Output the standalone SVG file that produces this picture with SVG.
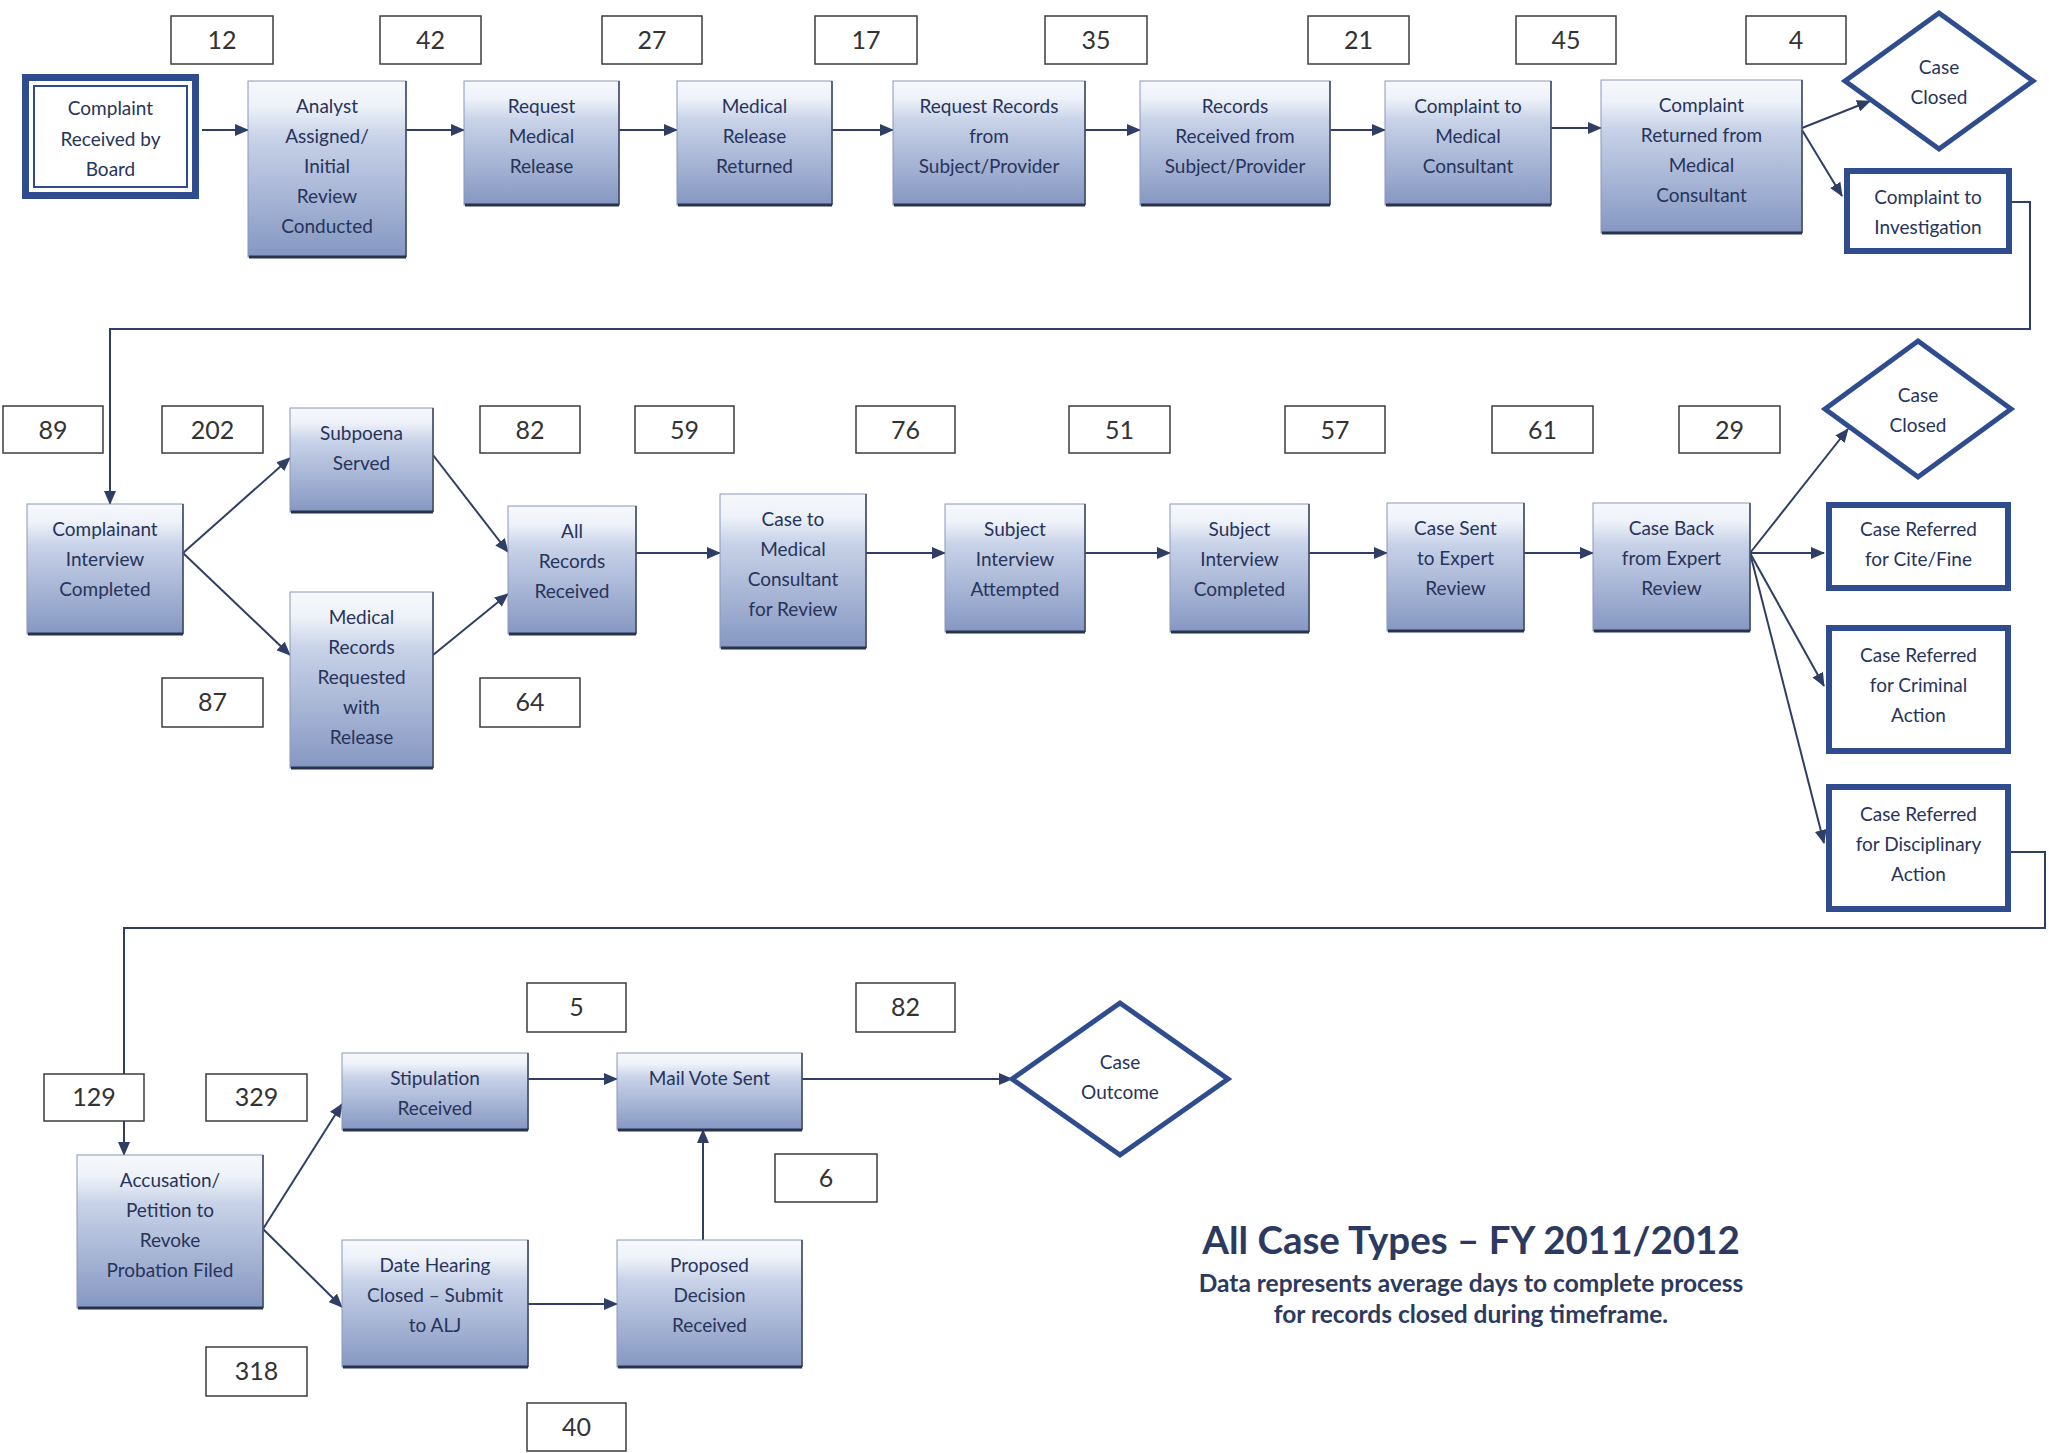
<svg xmlns="http://www.w3.org/2000/svg" width="2049" height="1453" viewBox="0 0 2049 1453">
<defs>
<linearGradient id="g" x1="0" y1="0" x2="0" y2="1">
<stop offset="0" stop-color="#f6f8fc"/>
<stop offset="0.14" stop-color="#eef2f9"/>
<stop offset="0.32" stop-color="#c8d2e8"/>
<stop offset="1" stop-color="#8597c2"/>
</linearGradient>
<marker id="ah" viewBox="0 0 14 12" refX="13" refY="6" markerWidth="14" markerHeight="12" markerUnits="userSpaceOnUse" orient="auto">
<path d="M0,0 L14,6 L0,12 Z" fill="#2f3e64"/>
</marker>
<style>
.proc{fill:url(#g);stroke:#8a98b8;stroke-width:1}
.sh{fill:none;stroke:#29324c;stroke-width:3}
.shr{fill:none;stroke:#3a4560;stroke-width:1.5}
.thick{fill:#fff;stroke:#2f4d8e;stroke-width:6}
.dia{fill:#fff;stroke:#2f4d8e;stroke-width:5}
.num{fill:#fff;stroke:#3c3c3c;stroke-width:1.5}
.nt{font-family:Lato,"Liberation Sans",sans-serif;font-size:25px;fill:#333;text-anchor:middle}
.lbl{font-family:Lato,"Liberation Sans",sans-serif;font-size:19px;fill:#27345a;text-anchor:middle}
.conn{stroke:#2f3e64;stroke-width:2;fill:none}
.arr{marker-end:url(#ah)}
.title{font-family:Lato,"Liberation Sans",sans-serif;font-weight:bold;fill:#2b3a5e;text-anchor:middle}
</style>
</defs>
<rect width="2049" height="1453" fill="#fff"/>

<g id="connectors">
<line class="conn arr" x1="202" y1="130" x2="248" y2="130"/>
<line class="conn arr" x1="406" y1="130" x2="464" y2="130"/>
<line class="conn arr" x1="619" y1="130" x2="677" y2="130"/>
<line class="conn arr" x1="832" y1="130" x2="893" y2="130"/>
<line class="conn arr" x1="1085" y1="130" x2="1140" y2="130"/>
<line class="conn arr" x1="1330" y1="130" x2="1385" y2="130"/>
<line class="conn arr" x1="1551" y1="128" x2="1601" y2="128"/>
<line class="conn arr" x1="1802" y1="128" x2="1870" y2="101"/>
<line class="conn arr" x1="1802" y1="130" x2="1842" y2="196"/>
<polyline class="conn arr" points="2012,202 2030,202 2030,329 110,329 110,504"/>
<line class="conn arr" x1="183" y1="553" x2="290" y2="458"/>
<line class="conn arr" x1="183" y1="553" x2="290" y2="655"/>
<line class="conn arr" x1="433" y1="455" x2="508" y2="552"/>
<line class="conn arr" x1="433" y1="655" x2="508" y2="594"/>
<line class="conn arr" x1="636" y1="553" x2="720" y2="553"/>
<line class="conn arr" x1="866" y1="553" x2="945" y2="553"/>
<line class="conn arr" x1="1085" y1="553" x2="1170" y2="553"/>
<line class="conn arr" x1="1309" y1="553" x2="1387" y2="553"/>
<line class="conn arr" x1="1524" y1="553" x2="1593" y2="553"/>
<line class="conn arr" x1="1750" y1="553" x2="1848" y2="429"/>
<line class="conn arr" x1="1750" y1="553" x2="1824" y2="553"/>
<line class="conn arr" x1="1750" y1="553" x2="1824" y2="686"/>
<line class="conn arr" x1="1750" y1="553" x2="1824" y2="843"/>
<polyline class="conn arr" points="2011,852 2045,852 2045,928 124,928 124,1155"/>
<line class="conn arr" x1="263" y1="1229" x2="342" y2="1104"/>
<line class="conn arr" x1="263" y1="1229" x2="342" y2="1307"/>
<line class="conn arr" x1="528" y1="1079" x2="617" y2="1079"/>
<line class="conn arr" x1="528" y1="1304" x2="617" y2="1304"/>
<line class="conn arr" x1="703" y1="1240" x2="703" y2="1130"/>
<line class="conn arr" x1="802" y1="1079" x2="1012" y2="1079"/>
</g>

<g id="n1"><rect x="25.5" y="77.5" width="170" height="118" fill="#fff" stroke="#2f4d8e" stroke-width="7"/><rect x="34" y="86" width="153" height="101" fill="none" stroke="#2f4d8e" stroke-width="2"/>
<text class="lbl"><tspan x="110.5" y="115">Complaint</tspan><tspan x="110.5" y="146">Received by</tspan><tspan x="110.5" y="176">Board</tspan></text></g>
<g id="n2"><rect class="proc" x="248" y="81" width="158" height="176"/><path class="shr" d="M406,81 V257"/><path class="sh" d="M249,257 H406"/>
<text class="lbl"><tspan x="327" y="113">Analyst</tspan><tspan x="327" y="143">Assigned/</tspan><tspan x="327" y="173">Initial</tspan><tspan x="327" y="203">Review</tspan><tspan x="327" y="233">Conducted</tspan></text></g>
<g id="n3"><rect class="proc" x="464" y="81" width="155" height="124"/><path class="shr" d="M619,81 V205"/><path class="sh" d="M465,205 H619"/>
<text class="lbl"><tspan x="541.5" y="113">Request</tspan><tspan x="541.5" y="143">Medical</tspan><tspan x="541.5" y="173">Release</tspan></text></g>
<g id="n4"><rect class="proc" x="677" y="81" width="155" height="124"/><path class="shr" d="M832,81 V205"/><path class="sh" d="M678,205 H832"/>
<text class="lbl"><tspan x="754.5" y="113">Medical</tspan><tspan x="754.5" y="143">Release</tspan><tspan x="754.5" y="173">Returned</tspan></text></g>
<g id="n5"><rect class="proc" x="893" y="81" width="192" height="124"/><path class="shr" d="M1085,81 V205"/><path class="sh" d="M894,205 H1085"/>
<text class="lbl"><tspan x="989" y="113">Request Records</tspan><tspan x="989" y="143">from</tspan><tspan x="989" y="173">Subject/Provider</tspan></text></g>
<g id="n6"><rect class="proc" x="1140" y="81" width="190" height="124"/><path class="shr" d="M1330,81 V205"/><path class="sh" d="M1141,205 H1330"/>
<text class="lbl"><tspan x="1235" y="113">Records</tspan><tspan x="1235" y="143">Received from</tspan><tspan x="1235" y="173">Subject/Provider</tspan></text></g>
<g id="n7"><rect class="proc" x="1385" y="81" width="166" height="124"/><path class="shr" d="M1551,81 V205"/><path class="sh" d="M1386,205 H1551"/>
<text class="lbl"><tspan x="1468" y="113">Complaint to</tspan><tspan x="1468" y="143">Medical</tspan><tspan x="1468" y="173">Consultant</tspan></text></g>
<g id="n8"><rect class="proc" x="1601" y="80" width="201" height="153"/><path class="shr" d="M1802,80 V233"/><path class="sh" d="M1602,233 H1802"/>
<text class="lbl"><tspan x="1701.5" y="112">Complaint</tspan><tspan x="1701.5" y="142">Returned from</tspan><tspan x="1701.5" y="172">Medical</tspan><tspan x="1701.5" y="202">Consultant</tspan></text></g>
<g id="d1"><polygon class="dia" points="1939,13 2033,81 1939,149 1845,81"/>
<text class="lbl"><tspan x="1939" y="74">Case</tspan><tspan x="1939" y="104">Closed</tspan></text></g>
<g id="n9"><rect class="thick" x="1847" y="171" width="162" height="80"/>
<text class="lbl"><tspan x="1928" y="204">Complaint to</tspan><tspan x="1928" y="234">Investigation</tspan></text></g>

<g id="n10"><rect class="proc" x="27" y="504" width="156" height="130"/><path class="shr" d="M183,504 V634"/><path class="sh" d="M28,634 H183"/>
<text class="lbl"><tspan x="105" y="536">Complainant</tspan><tspan x="105" y="566">Interview</tspan><tspan x="105" y="596">Completed</tspan></text></g>
<g id="n11"><rect class="proc" x="290" y="408" width="143" height="104"/><path class="shr" d="M433,408 V512"/><path class="sh" d="M291,512 H433"/>
<text class="lbl"><tspan x="361.5" y="440">Subpoena</tspan><tspan x="361.5" y="470">Served</tspan></text></g>
<g id="n12"><rect class="proc" x="290" y="592" width="143" height="176"/><path class="shr" d="M433,592 V768"/><path class="sh" d="M291,768 H433"/>
<text class="lbl"><tspan x="361.5" y="624">Medical</tspan><tspan x="361.5" y="654">Records</tspan><tspan x="361.5" y="684">Requested</tspan><tspan x="361.5" y="714">with</tspan><tspan x="361.5" y="744">Release</tspan></text></g>
<g id="n13"><rect class="proc" x="508" y="506" width="128" height="128"/><path class="shr" d="M636,506 V634"/><path class="sh" d="M509,634 H636"/>
<text class="lbl"><tspan x="572" y="538">All</tspan><tspan x="572" y="568">Records</tspan><tspan x="572" y="598">Received</tspan></text></g>
<g id="n14"><rect class="proc" x="720" y="494" width="146" height="154"/><path class="shr" d="M866,494 V648"/><path class="sh" d="M721,648 H866"/>
<text class="lbl"><tspan x="793" y="526">Case to</tspan><tspan x="793" y="556">Medical</tspan><tspan x="793" y="586">Consultant</tspan><tspan x="793" y="616">for Review</tspan></text></g>
<g id="n15"><rect class="proc" x="945" y="504" width="140" height="128"/><path class="shr" d="M1085,504 V632"/><path class="sh" d="M946,632 H1085"/>
<text class="lbl"><tspan x="1015" y="536">Subject</tspan><tspan x="1015" y="566">Interview</tspan><tspan x="1015" y="596">Attempted</tspan></text></g>
<g id="n16"><rect class="proc" x="1170" y="504" width="139" height="128"/><path class="shr" d="M1309,504 V632"/><path class="sh" d="M1171,632 H1309"/>
<text class="lbl"><tspan x="1239.5" y="536">Subject</tspan><tspan x="1239.5" y="566">Interview</tspan><tspan x="1239.5" y="596">Completed</tspan></text></g>
<g id="n17"><rect class="proc" x="1387" y="503" width="137" height="128"/><path class="shr" d="M1524,503 V631"/><path class="sh" d="M1388,631 H1524"/>
<text class="lbl"><tspan x="1455.5" y="535">Case Sent</tspan><tspan x="1455.5" y="565">to Expert</tspan><tspan x="1455.5" y="595">Review</tspan></text></g>
<g id="n18"><rect class="proc" x="1593" y="503" width="157" height="128"/><path class="shr" d="M1750,503 V631"/><path class="sh" d="M1594,631 H1750"/>
<text class="lbl"><tspan x="1671.5" y="535">Case Back</tspan><tspan x="1671.5" y="565">from Expert</tspan><tspan x="1671.5" y="595">Review</tspan></text></g>
<g id="d2"><polygon class="dia" points="1918,341 2011,409 1918,477 1825,409"/>
<text class="lbl"><tspan x="1918" y="402">Case</tspan><tspan x="1918" y="432">Closed</tspan></text></g>
<g id="n19"><rect class="thick" x="1829" y="505" width="179" height="83"/>
<text class="lbl"><tspan x="1918.5" y="536">Case Referred</tspan><tspan x="1918.5" y="566">for Cite/Fine</tspan></text></g>
<g id="n20"><rect class="thick" x="1829" y="628" width="179" height="123"/>
<text class="lbl"><tspan x="1918.5" y="662">Case Referred</tspan><tspan x="1918.5" y="692">for Criminal</tspan><tspan x="1918.5" y="722">Action</tspan></text></g>
<g id="n21"><rect class="thick" x="1829" y="787" width="179" height="122"/>
<text class="lbl"><tspan x="1918.5" y="821">Case Referred</tspan><tspan x="1918.5" y="851">for Disciplinary</tspan><tspan x="1918.5" y="881">Action</tspan></text></g>

<g id="n22"><rect class="proc" x="77" y="1155" width="186" height="153"/><path class="shr" d="M263,1155 V1308"/><path class="sh" d="M78,1308 H263"/>
<text class="lbl"><tspan x="170" y="1187">Accusation/</tspan><tspan x="170" y="1217">Petition to</tspan><tspan x="170" y="1247">Revoke</tspan><tspan x="170" y="1277">Probation Filed</tspan></text></g>
<g id="n23"><rect class="proc" x="342" y="1053" width="186" height="77"/><path class="shr" d="M528,1053 V1130"/><path class="sh" d="M343,1130 H528"/>
<text class="lbl"><tspan x="435" y="1085">Stipulation</tspan><tspan x="435" y="1115">Received</tspan></text></g>
<g id="n24"><rect class="proc" x="342" y="1240" width="186" height="127"/><path class="shr" d="M528,1240 V1367"/><path class="sh" d="M343,1367 H528"/>
<text class="lbl"><tspan x="435" y="1272">Date Hearing</tspan><tspan x="435" y="1302">Closed – Submit</tspan><tspan x="435" y="1332">to ALJ</tspan></text></g>
<g id="n25"><rect class="proc" x="617" y="1053" width="185" height="77"/><path class="shr" d="M802,1053 V1130"/><path class="sh" d="M618,1130 H802"/>
<text class="lbl"><tspan x="709.5" y="1085">Mail Vote Sent</tspan></text></g>
<g id="n26"><rect class="proc" x="617" y="1240" width="185" height="127"/><path class="shr" d="M802,1240 V1367"/><path class="sh" d="M618,1367 H802"/>
<text class="lbl"><tspan x="709.5" y="1272">Proposed</tspan><tspan x="709.5" y="1302">Decision</tspan><tspan x="709.5" y="1332">Received</tspan></text></g>
<g id="d3"><polygon class="dia" points="1120,1003 1228,1079 1120,1155 1012,1079"/>
<text class="lbl"><tspan x="1120" y="1069">Case</tspan><tspan x="1120" y="1099">Outcome</tspan></text></g>

<g id="numbers">
<rect class="num" x="171" y="16" width="102" height="48"/><text class="nt" x="222" y="49">12</text>
<rect class="num" x="380" y="16" width="101" height="48"/><text class="nt" x="430.5" y="49">42</text>
<rect class="num" x="602" y="16" width="100" height="48"/><text class="nt" x="652" y="49">27</text>
<rect class="num" x="815" y="16" width="102" height="48"/><text class="nt" x="866" y="49">17</text>
<rect class="num" x="1045" y="16" width="102" height="48"/><text class="nt" x="1096" y="49">35</text>
<rect class="num" x="1308" y="16" width="101" height="48"/><text class="nt" x="1358.5" y="49">21</text>
<rect class="num" x="1516" y="16" width="100" height="48"/><text class="nt" x="1566" y="49">45</text>
<rect class="num" x="1746" y="16" width="100" height="48"/><text class="nt" x="1796" y="49">4</text>
<rect class="num" x="3" y="406" width="100" height="47"/><text class="nt" x="53" y="439">89</text>
<rect class="num" x="162" y="406" width="101" height="47"/><text class="nt" x="212.5" y="439">202</text>
<rect class="num" x="480" y="406" width="100" height="47"/><text class="nt" x="530" y="439">82</text>
<rect class="num" x="635" y="406" width="99" height="47"/><text class="nt" x="684.5" y="439">59</text>
<rect class="num" x="856" y="406" width="99" height="47"/><text class="nt" x="905.5" y="439">76</text>
<rect class="num" x="1069" y="406" width="101" height="47"/><text class="nt" x="1119.5" y="439">51</text>
<rect class="num" x="1285" y="406" width="100" height="47"/><text class="nt" x="1335" y="439">57</text>
<rect class="num" x="1492" y="406" width="101" height="47"/><text class="nt" x="1542.5" y="439">61</text>
<rect class="num" x="1679" y="406" width="101" height="47"/><text class="nt" x="1729.5" y="439">29</text>
<rect class="num" x="162" y="678" width="101" height="49"/><text class="nt" x="212.5" y="711">87</text>
<rect class="num" x="480" y="678" width="100" height="49"/><text class="nt" x="530" y="711">64</text>
<rect class="num" x="44" y="1074" width="100" height="47"/><text class="nt" x="94" y="1106">129</text>
<rect class="num" x="206" y="1074" width="101" height="47"/><text class="nt" x="256.5" y="1106">329</text>
<rect class="num" x="527" y="983" width="99" height="49"/><text class="nt" x="576.5" y="1016">5</text>
<rect class="num" x="856" y="983" width="99" height="49"/><text class="nt" x="905.5" y="1016">82</text>
<rect class="num" x="775" y="1154" width="102" height="48"/><text class="nt" x="826" y="1187">6</text>
<rect class="num" x="206" y="1347" width="101" height="49"/><text class="nt" x="256.5" y="1380">318</text>
<rect class="num" x="527" y="1403" width="99" height="48"/><text class="nt" x="576.5" y="1436">40</text>
</g>

<g id="caption">
<text class="title" x="1471" y="1254" font-size="38.5">All Case Types – FY 2011/2012</text>
<text class="title" x="1471" y="1292" font-size="24.5">Data represents average days to complete process</text>
<text class="title" x="1471" y="1323" font-size="24.5">for records closed during timeframe.</text>
</g>
</svg>
